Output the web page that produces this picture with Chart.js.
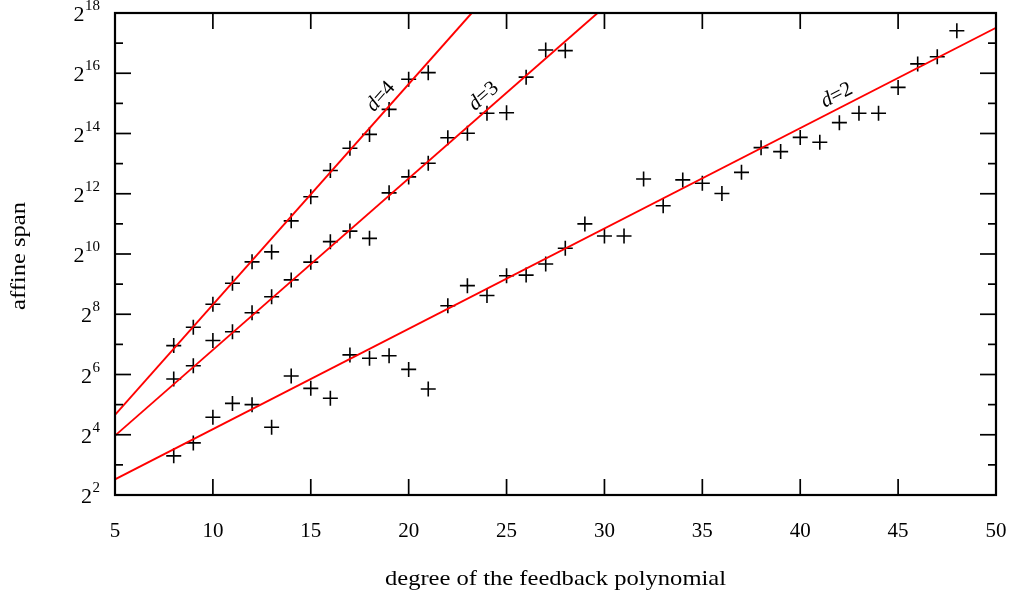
<!DOCTYPE html>
<html><head><meta charset="utf-8">
<script src="https://cdn.jsdelivr.net/npm/chart.js@4.4.1/dist/chart.umd.min.js"></script>
<style>html,body{margin:0;padding:0;background:#fff}#wrap{width:1011px;height:595px}</style>
</head><body><div id="wrap"><canvas id="c" width="1011" height="595"></canvas></div>
<script>
// ---------- data (y values are log2 of the affine span) ----------
const degreesD4 = [8,9,10,11,12,13,14,15,16,17,18,19,20,21];
const spanLog2D4 = [6.96,7.57,8.33,9.03,9.74,10.07,11.10,11.90,12.77,13.51,13.97,14.80,15.80,16.02];

const degreesD3 = [8,9,10,11,12,13,14,15,16,17,18,19,20,21,22,23,24,25,26,27,28];
const spanLog2D3 = [5.85,6.29,7.13,7.42,8.05,8.58,9.14,9.73,10.41,10.76,10.52,12.03,12.56,13.01,13.86,14.01,14.67,14.69,15.87,16.77,16.75];

const degreesD2 = [8,9,10,11,12,13,14,15,16,17,18,19,20,21,22,23,24,25,26,27,28,29,30,31,32,33,34,35,36,37,38,39,40,41,42,43,44,45,46,47,48];
const spanLog2D2 = [3.30,3.73,4.58,5.04,5.00,4.25,5.95,5.54,5.21,6.65,6.54,6.62,6.17,5.52,8.28,8.95,8.62,9.28,9.30,9.67,10.19,11.00,10.60,10.60,12.49,11.60,12.46,12.35,12.01,12.71,13.53,13.40,13.87,13.71,14.36,14.67,14.67,15.53,16.31,16.55,17.41];

// fitted lines (end points)
const fitDegreeD2 = [5, 50];     const fitLog2D2 = [2.52, 17.51];
const fitDegreeD3 = [5, 29.65];  const fitLog2D3 = [3.97, 18];
const fitDegreeD4 = [5, 23.22];  const fitLog2D4 = [4.66, 18];

const seriesNames = ['2', '3', '4'];
const labelDegrees = [42.16, 24.25, 19.05];

const xTickValues = [5,10,15,20,25,30,35,40,45,50];
const yTickExponents = [2,3,4,5,6,7,8,9,10,11,12,13,14,15,16,17,18];
const yLabelExponents = [2,4,6,8,10,12,14,16,18];
const xAxisTitle = 'degree of the feedback polynomial';
const yAxisTitle = 'affine span';

// ---------- build ----------
const toPts = (xs, es) => xs.map((x, i) => ({x: x, y: Math.pow(2, es[i])}));
const SERIF = '"Liberation Serif", "DejaVu Serif", serif';

const pointStyle = {type: 'scatter', showLine: false, pointStyle: 'cross', pointRadius: 7.5, pointHoverRadius: 7.5,
  borderColor: '#000', backgroundColor: '#000', pointBorderWidth: 1.6, borderWidth: 1.6};
const lineStyle = {type: 'scatter', showLine: true, borderColor: '#ff0000', borderWidth: 1.9, pointRadius: 0, fill: false};

const fits = [[fitDegreeD2, fitLog2D2], [fitDegreeD3, fitLog2D3], [fitDegreeD4, fitLog2D4]];

const decor = {
  id: 'decor',
  afterDatasetsDraw(chart) {
    const {ctx, chartArea: a, scales: {x, y}} = chart;
    ctx.save();
    ctx.strokeStyle = '#000';
    ctx.fillStyle = '#000';
    const seg = (x1, y1, x2, y2) => { ctx.beginPath(); ctx.moveTo(x1, y1); ctx.lineTo(x2, y2); ctx.stroke(); };
    // ticks
    ctx.lineWidth = 1.7;
    xTickValues.forEach(v => {
      const px = x.getPixelForValue(v);
      seg(px, a.bottom, px, a.bottom - 16);
      seg(px, a.top, px, a.top + 16);
    });
    yTickExponents.forEach(e => {
      const py = y.getPixelForValue(Math.pow(2, e));
      const L = e % 2 === 0 ? 16 : 8;
      seg(a.left, py, a.left + L, py);
      seg(a.right, py, a.right - L, py);
    });
    // frame
    ctx.lineWidth = 2.2;
    ctx.strokeRect(a.left, a.top, a.right - a.left, a.bottom - a.top);

    // x tick labels
    ctx.font = '21px ' + SERIF;
    ctx.textAlign = 'center';
    ctx.textBaseline = 'alphabetic';
    xTickValues.forEach(v => ctx.fillText(String(v), x.getPixelForValue(v), a.bottom + 42));

    // y tick labels with superscripts
    yLabelExponents.forEach(e => {
      const py = y.getPixelForValue(Math.pow(2, e));
      const sup = String(e);
      ctx.font = '15px ' + SERIF;
      const sw = ctx.measureText(sup).width;
      ctx.textAlign = 'right';
      ctx.fillText(sup, a.left - 15, py - 3);
      ctx.font = '22px ' + SERIF;
      ctx.fillText('2', a.left - 15 - sw - 0.5, py + 8);
    });

    // axis titles (slightly widened to mimic the book-style face)
    ctx.font = '21px ' + SERIF;
    ctx.textAlign = 'center';
    ctx.save();
    ctx.translate((a.left + a.right) / 2, 585);
    ctx.scale(1.17, 1);
    ctx.fillText(xAxisTitle, 0, 0);
    ctx.restore();
    ctx.save();
    ctx.translate(25, 256);
    ctx.rotate(-Math.PI / 2);
    ctx.scale(1.17, 1);
    ctx.fillText(yAxisTitle, 0, 0);
    ctx.restore();

    // line labels d=...
    fits.forEach((f, i) => {
      const [xs, es] = f;
      const x1 = x.getPixelForValue(xs[0]), y1 = y.getPixelForValue(Math.pow(2, es[0]));
      const x2 = x.getPixelForValue(xs[1]), y2 = y.getPixelForValue(Math.pow(2, es[1]));
      const ang = Math.atan2(y2 - y1, x2 - x1);
      const lx = x.getPixelForValue(labelDegrees[i]);
      const t = (lx - x1) / (x2 - x1);
      const ly = y1 + t * (y2 - y1);
      const nx = Math.sin(ang), ny = -Math.cos(ang);
      const off = 12.5;
      ctx.save();
      ctx.translate(lx + nx * off, ly + ny * off);
      ctx.rotate(ang);
      ctx.textBaseline = 'middle';
      ctx.font = 'italic 21px ' + SERIF;
      const dW = ctx.measureText('d').width;
      ctx.font = '21px ' + SERIF;
      const rest = '=' + seriesNames[i];
      const rW = ctx.measureText(rest).width;
      const total = dW + rW;
      ctx.textAlign = 'left';
      ctx.font = 'italic 21px ' + SERIF;
      ctx.fillText('d', -total / 2, 0);
      ctx.font = '21px ' + SERIF;
      ctx.fillText(rest, -total / 2 + dW, 0);
      ctx.restore();
    });
    ctx.restore();
  }
};

new Chart(document.getElementById('c'), {
  type: 'scatter',
  data: {
    datasets: [
      Object.assign({label: 'd=2 fit', data: toPts(fitDegreeD2, fitLog2D2)}, lineStyle),
      Object.assign({label: 'd=3 fit', data: toPts(fitDegreeD3, fitLog2D3)}, lineStyle),
      Object.assign({label: 'd=4 fit', data: toPts(fitDegreeD4, fitLog2D4)}, lineStyle),
      Object.assign({label: 'd=2', data: toPts(degreesD2, spanLog2D2)}, pointStyle),
      Object.assign({label: 'd=3', data: toPts(degreesD3, spanLog2D3)}, pointStyle),
      Object.assign({label: 'd=4', data: toPts(degreesD4, spanLog2D4)}, pointStyle)
    ]
  },
  options: {
    responsive: false,
    animation: false,
    devicePixelRatio: 1,
    layout: {padding: {left: 0, right: 15, top: 13, bottom: 0}},
    plugins: {legend: {display: false}, tooltip: {enabled: false}},
    scales: {
      x: {
        type: 'linear', min: 5, max: 50,
        grid: {display: false, drawTicks: false}, border: {display: false},
        ticks: {display: false, stepSize: 5},
        afterFit: s => { s.height = 100; }
      },
      y: {
        type: 'logarithmic', min: Math.pow(2, 2), max: Math.pow(2, 18),
        grid: {display: false, drawTicks: false}, border: {display: false},
        ticks: {display: false},
        afterFit: s => { s.width = 115; }
      }
    }
  },
  plugins: [decor]
});
</script>
</body></html>
